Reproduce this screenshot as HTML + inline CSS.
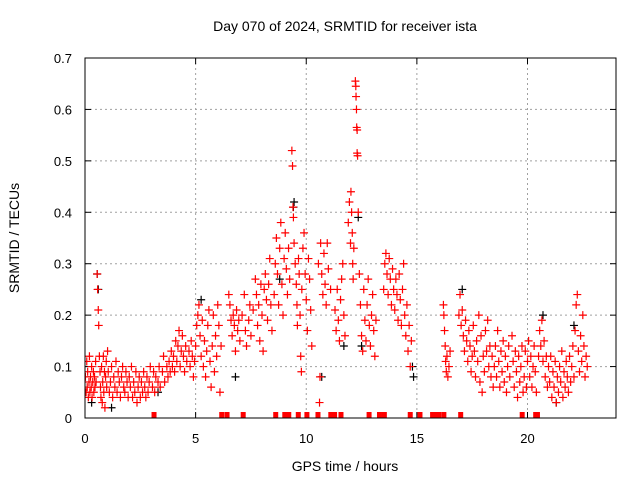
<!DOCTYPE html>
<html><head><meta charset="utf-8"><style>
html,body{margin:0;padding:0;background:#fff;}
svg{display:block;font-family:"Liberation Sans",sans-serif;}
</style></head><body>
<svg id="chart" width="640" height="480">
<text x="345" y="31" font-size="14" text-anchor="middle" fill="#000">Day 070 of 2024, SRMTID for receiver ista</text>
<text transform="translate(19,238) rotate(-90)" font-size="14" text-anchor="middle">SRMTID / TECUs</text>
<text x="345" y="471" font-size="14" text-anchor="middle">GPS time / hours</text>
<g id="grid"></g>
<g id="ticks"></g>
<defs><clipPath id="pc"><rect x="85" y="58" width="531" height="360"/></clipPath></defs>
<g id="black" clip-path="url(#pc)"></g>
<g id="red" clip-path="url(#pc)"></g>
<rect x="85" y="58" width="531" height="360" fill="none" stroke="#000" stroke-width="1"/>
</svg>
<script>
const xTicks=[0,5,10,15,20];
const yTicks=[0,0.1,0.2,0.3,0.4,0.5,0.6,0.7];
const yTickLabels=["0","0.1","0.2","0.3","0.4","0.5","0.6","0.7"];
const zeroTimes=[3.12,6.18,6.42,7.15,8.62,9.03,9.21,9.64,10.03,10.53,11.11,11.28,11.57,12.84,13.31,13.53,14.70,15.14,15.71,15.85,15.99,16.22,16.98,19.76,20.37,20.45];
const blackPoints=[[0.55,.28],[0.6,.25],[9.45,.42],[9.42,.41],[12.35,.39],[10.7,.08],[14.8,.10],[14.85,.08],[17.05,.25],[20.7,.2],[5.25,.23],[6.8,.08],[22.1,.18],[21.3,.03],[8.8,.27],[11.7,.14],[12.5,.14],[3.3,.05],[0.3,.03],[1.2,.02]];
const redPoints=[
[0.02,.08],[0.05,.05],[0.08,.11],[0.1,.06],[0.12,.09],[0.15,.04],[0.18,.07],[0.2,.12],[0.22,.05],[0.25,.08],[0.28,.06],[0.3,.10],[0.32,.04],[0.35,.07],[0.38,.09],[0.4,.05],[0.43,.08],[0.45,.06],[0.48,.11],[0.5,.07],
[0.55,.28],[0.57,.25],[0.6,.21],[0.62,.18],[0.65,.12],[0.68,.09],[0.7,.06],[0.72,.04],[0.75,.10],[0.78,.03],[0.8,.07],[0.83,.12],[0.85,.05],[0.88,.09],[0.9,.02],[0.93,.08],[0.96,.11],[0.98,.06],
[1.02,.13],[1.05,.09],[1.1,.05],[1.15,.07],[1.2,.10],[1.25,.04],[1.3,.08],[1.35,.06],[1.4,.11],[1.45,.05],[1.5,.09],[1.55,.07],[1.6,.04],[1.65,.08],[1.7,.10],[1.75,.06],[1.8,.05],[1.85,.09],[1.9,.07],[1.95,.04],
[2.0,.08],[2.05,.06],[2.1,.10],[2.15,.04],[2.2,.07],[2.25,.05],[2.3,.09],[2.35,.03],[2.4,.06],[2.45,.08],[2.5,.04],[2.55,.07],[2.6,.05],[2.65,.09],[2.7,.06],[2.75,.04],[2.8,.08],[2.85,.05],[2.9,.07],[2.95,.10],
[3.05,.06],[3.1,.09],[3.15,.05],[3.2,.08],[3.3,.07],[3.35,.10],[3.4,.06],[3.5,.09],[3.55,.12],[3.6,.07],[3.7,.10],[3.75,.08],[3.8,.11],[3.85,.09],[3.9,.13],[3.95,.10],
[4.0,.12],[4.05,.09],[4.1,.15],[4.15,.11],[4.2,.14],[4.25,.17],[4.3,.10],[4.35,.13],[4.4,.16],[4.45,.12],[4.5,.09],[4.55,.14],[4.6,.11],[4.7,.13],[4.75,.10],[4.8,.15],[4.85,.12],[4.9,.08],[4.95,.11],
[5.0,.14],[5.05,.18],[5.1,.20],[5.15,.22],[5.2,.16],[5.25,.12],[5.3,.19],[5.35,.10],[5.4,.15],[5.45,.08],[5.5,.13],[5.55,.18],[5.6,.21],[5.65,.11],[5.7,.06],[5.75,.14],[5.8,.20],[5.85,.09],[5.9,.16],[5.95,.12],[6.0,.22],[6.05,.18],[6.1,.05],[6.15,.14],
[6.5,.24],[6.55,.22],[6.6,.19],[6.65,.16],[6.7,.20],[6.75,.18],[6.8,.13],[6.85,.21],[6.9,.17],[6.95,.19],[7.0,.15],[7.1,.20],[7.2,.24],[7.25,.17],[7.3,.14],[7.4,.19],[7.45,.22],
[7.5,.16],[7.6,.21],[7.7,.27],[7.75,.24],[7.8,.18],[7.85,.22],[7.9,.15],[7.95,.26],[8.0,.20],[8.05,.13],[8.1,.25],[8.15,.28],[8.2,.23],[8.25,.19],[8.3,.26],[8.35,.31],[8.4,.22],[8.45,.17],
[8.55,.24],[8.6,.30],[8.65,.35],[8.7,.28],[8.75,.22],[8.8,.33],[8.85,.38],[8.9,.26],[8.95,.20],[9.0,.31],[9.05,.36],[9.1,.29],[9.15,.24],[9.2,.33],[9.25,.27],
[9.35,.52],[9.38,.49],[9.4,.41],[9.42,.39],[9.45,.34],[9.5,.30],[9.55,.26],[9.58,.22],[9.6,.18],[9.65,.31],[9.68,.28],
[9.72,.20],[9.75,.12],[9.78,.09],[9.8,.25],[9.85,.33],[9.9,.36],[9.95,.28],[10.0,.23],[10.05,.17],[10.1,.31],[10.15,.27],[10.2,.21],[10.25,.14],
[10.55,.30],[10.6,.03],[10.62,.08],[10.65,.34],[10.7,.28],[10.75,.24],[10.8,.32],[10.85,.26],[10.9,.22],[10.95,.34],[11.0,.29],[11.1,.25],
[11.3,.21],[11.35,.17],[11.4,.25],[11.45,.19],[11.5,.15],[11.55,.23],[11.6,.27],[11.65,.30],[11.7,.20],[11.75,.16],
[11.9,.38],[11.95,.42],[12.0,.34],[12.02,.44],[12.05,.40],[12.08,.36],[12.1,.30],[12.12,.27],[12.15,.33],
[12.22,.655],[12.24,.645],[12.25,.625],[12.27,.60],[12.28,.565],[12.3,.56],[12.3,.515],[12.32,.51],
[12.35,.40],[12.4,.28],[12.45,.22],[12.5,.16],[12.55,.13],[12.6,.25],[12.65,.19],[12.7,.15],[12.75,.22],[12.8,.27],[12.85,.18],[12.9,.14],[12.95,.20],[13.0,.24],[13.05,.17],[13.1,.12],[13.15,.19],
[13.5,.25],[13.55,.30],[13.6,.32],[13.65,.28],[13.7,.24],[13.75,.31],[13.8,.27],[13.85,.22],[13.9,.29],[13.95,.25],
[14.0,.21],[14.05,.27],[14.1,.24],[14.15,.19],[14.2,.28],[14.25,.23],[14.3,.18],[14.35,.25],[14.4,.30],[14.45,.20],[14.5,.16],[14.55,.22],[14.6,.13],[14.65,.18],[14.7,.10],[14.75,.15],
[16.2,.22],[16.22,.20],[16.25,.17],[16.28,.14],[16.3,.11],[16.33,.09],[16.36,.12],[16.4,.08],[16.45,.10],[16.5,.13],
[16.9,.20],[16.95,.24],[17.0,.18],[17.05,.21],[17.1,.16],[17.15,.13],[17.2,.19],[17.25,.15],[17.3,.11],[17.35,.17],[17.4,.14],[17.45,.09],[17.5,.12],
[17.55,.18],[17.6,.13],[17.65,.08],[17.7,.15],[17.75,.11],[17.8,.20],[17.85,.07],[17.9,.16],[17.95,.05],[18.0,.12],[18.05,.09],[18.1,.17],[18.15,.13],[18.2,.19],[18.25,.10],[18.3,.14],[18.35,.08],[18.4,.12],[18.45,.06],
[18.5,.10],[18.55,.14],[18.6,.08],[18.65,.17],[18.7,.11],[18.75,.06],[18.8,.13],[18.85,.09],[18.9,.15],[18.95,.07],[19.0,.12],[19.05,.05],[19.1,.10],[19.15,.14],[19.2,.08],[19.3,.16],[19.35,.11],[19.4,.06],[19.45,.13],[19.5,.09],[19.55,.04],[19.6,.12],[19.65,.07],[19.7,.10],[19.75,.14],[19.8,.05],[19.85,.08],[19.9,.13],[19.95,.06],
[20.0,.11],[20.05,.15],[20.1,.08],[20.15,.12],[20.2,.06],[20.25,.10],[20.3,.14],[20.35,.09],[20.4,.05],[20.5,.12],[20.55,.17],[20.6,.14],[20.65,.19],[20.7,.11],[20.75,.15],[20.8,.08],[20.85,.12],[20.9,.06],[20.95,.10],
[21.0,.07],[21.05,.12],[21.1,.04],[21.15,.09],[21.2,.06],[21.25,.11],[21.3,.03],[21.35,.08],[21.4,.05],[21.45,.10],[21.5,.07],[21.55,.13],[21.6,.04],[21.65,.09],[21.7,.06],[21.75,.11],[21.8,.08],[21.85,.05],[21.9,.12],[21.95,.07],
[22.0,.10],[22.05,.14],[22.1,.08],[22.15,.17],[22.2,.22],[22.25,.24],[22.3,.13],[22.35,.09],[22.4,.16],[22.45,.11],[22.5,.20],[22.55,.14],[22.6,.08],[22.65,.12],[22.7,.10]
];
const X0=85,X1=616,Y0=418,Y1=58,XMAX=24,YMAX=0.7;
const NS='http://www.w3.org/2000/svg';
function sx(t){return X0+(X1-X0)*t/XMAX;}
function sy(v){return Y0-(Y0-Y1)*v/YMAX;}
function mk(tag,attrs,parent){const e=document.createElementNS(NS,tag);for(const k in attrs)e.setAttribute(k,attrs[k]);parent.appendChild(e);return e;}
const grid=document.getElementById('grid'),ticks=document.getElementById('ticks');
xTicks.forEach(t=>{
  const x=sx(t);
  if(t>0){const g=mk('line',{x1:x,x2:x,y1:Y1,y2:Y0,stroke:'#a0a0a0','stroke-dasharray':'2,3'},grid);
  
  }
  mk('line',{x1:x,x2:x,y1:Y0,y2:Y0-6,stroke:'#000'},ticks);
  mk('line',{x1:x,x2:x,y1:Y1,y2:Y1+6,stroke:'#000'},ticks);
  const l=mk('text',{x:x,y:443,'font-size':13,'text-anchor':'middle'},ticks);l.textContent=t;
  
  
});
yTicks.forEach((v,i)=>{
  const y=sy(v);
  if(v>0&&v<YMAX){const g=mk('line',{x1:X0,x2:X1,y1:y,y2:y,stroke:'#a0a0a0','stroke-dasharray':'2,3'},grid);
  
  }
  mk('line',{x1:X0,x2:X0+6,y1:y,y2:y,stroke:'#000'},ticks);
  mk('line',{x1:X1,x2:X1-6,y1:y,y2:y,stroke:'#000'},ticks);
  const l=mk('text',{x:72,y:y+5,'font-size':13,'text-anchor':'end'},ticks);l.textContent=yTickLabels[i];
  
  
});
function plus(g,t,v,color,name){
  const x=sx(t),y=sy(v);
  const p=mk('path',{d:`M${x-4},${y}h8M${x},${y-4}v8`,stroke:color,'stroke-width':1.2,fill:'none'},g);
  
  
}
const bg=document.getElementById('black'),rg=document.getElementById('red');
blackPoints.forEach(p=>plus(bg,p[0],p[1],'#000','black-point'));
redPoints.forEach(p=>plus(rg,p[0],p[1],'#ff0000','red-point'));
zeroTimes.forEach(t=>{
  const r=mk('rect',{x:sx(t)-2.5,y:Y0-6,width:5,height:6,fill:'#ff0000'},rg);
  
  
});
</script>
</body></html>
